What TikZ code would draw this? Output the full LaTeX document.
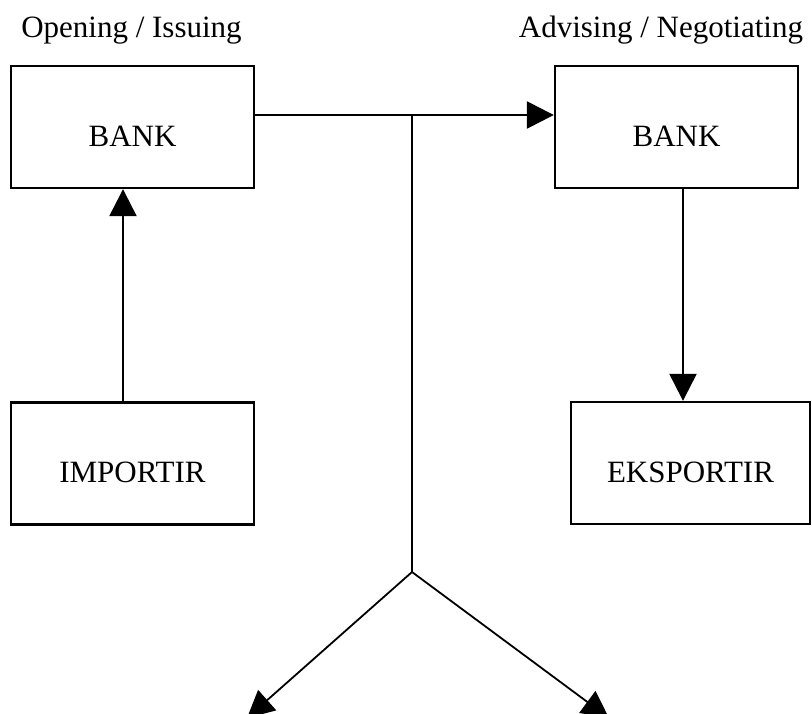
\documentclass[tikz,border=0pt]{standalone}
\usepackage{fontspec}
\setmainfont{Liberation Serif}
\usetikzlibrary{arrows.meta}

\begin{document}
\begin{tikzpicture}[x=1pt,y=-1pt,
  box/.style={draw,line width=2.4pt,minimum width=243pt,minimum height=122pt,inner sep=0pt,
    text height=38pt,text depth=0pt},
  arr/.style={-{Triangle[length=27pt,width=27pt]}},
  font=\fontsize{31}{37}\selectfont]
\useasboundingbox (0,0) rectangle (812,713);
\node[anchor=base] (lblA) at (131.5,37) {Opening / Issuing};
\node[anchor=base] (lblB) at (661,37) {Advising / Negotiating};
\node[box] (bankA) at (132.5,127) {BANK};
\node[box] (bankB) at (676.5,127) {BANK};
\node[box] (imp) at (132.5,463.5) {IMPORTIR};
\node[box,minimum width=239pt] (eks) at (690.5,463) {EKSPORTIR};
\path (412,115) coordinate (split) (412,572) coordinate (fork)
  (247,718) coordinate (outA) (609,718) coordinate (outB);
\draw[arr,line width=2.6pt] (bankA.east |- split) -- (bankB.west |- split);
\draw[line width=1.8pt] (split) -- (fork);
\draw[arr,line width=1.8pt] (fork) -- (outA);
\draw[arr,line width=1.8pt] (fork) -- (outB);
\draw[arr,line width=2.4pt] ([xshift=-9.5pt]imp.north) -- ([xshift=-9.5pt]bankA.south);
\draw[arr,line width=2.4pt] ([xshift=6.5pt]bankB.south) -- ([xshift=6.5pt]bankB.south |- eks.north);
\end{tikzpicture}
\end{document}
